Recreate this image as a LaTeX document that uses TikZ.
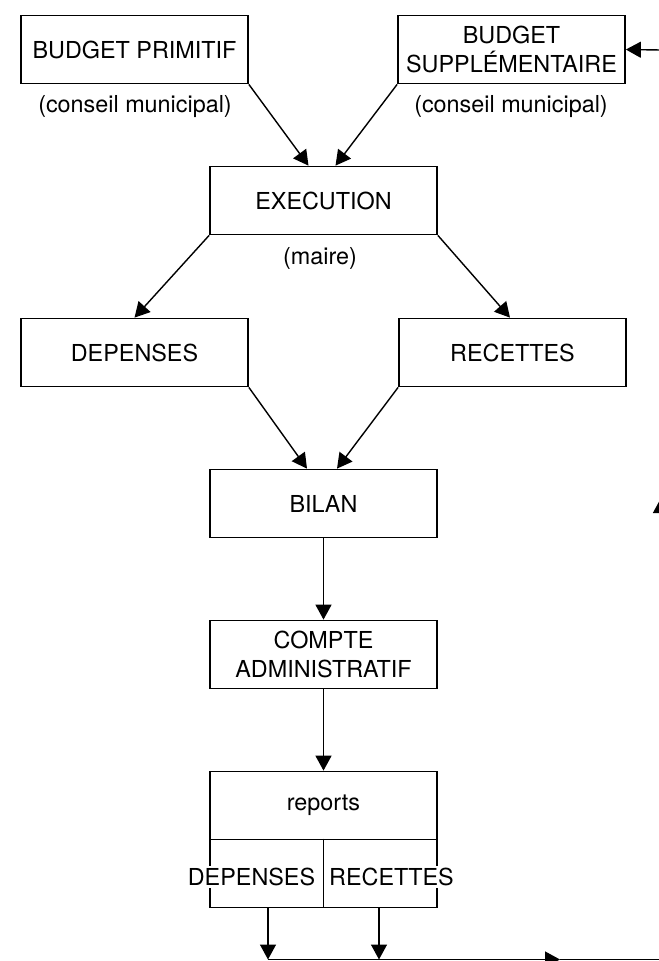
\documentclass[tikz,border=0pt]{standalone}
\usepackage{fontspec}
\setmainfont{TeX Gyre Heros}
\usepackage{tikz}
\usetikzlibrary{shapes}
\usetikzlibrary{arrows.meta}

\begin{document}
\begin{tikzpicture}[x=0.02cm,y=-0.02cm,>={Triangle[length=3mm,width=3.2mm]}]
        \tikzstyle{etape}=[rectangle,draw=black,line width=1pt,minimum width=4.54cm,minimum height=1.36cm,inner sep=0pt,align=center,font=\fontsize{13.3}{16}\selectfont]
        \tikzstyle{legende}=[font=\fontsize{13.3}{16}\selectfont]
        \tikzstyle{edge}=[draw, line width=0.8pt]
        \useasboundingbox (0,0) rectangle (659,961);
       \begin{scope}
         \node [etape] (bp) at (134.5,49.5) {BUDGET PRIMITIF};
         \node [etape] (bs) at (511.5,49.5) {BUDGET\\SUPPL\'EMENTAIRE};
         \node [legende] (cm1) at (135,107) {(conseil municipal)};
         \node [legende] (cm2) at (511,107) {(conseil municipal)};
         \node [etape] (exe) at (323.5,200.5) {EXECUTION};
         \node [legende] (maire) at (320,258) {(maire)};
         \node [etape] (dep) at (134.5,352.5) {DEPENSES};
         \node [etape] (rec) at (512.5,352.5) {RECETTES};
         \node [etape] (bil) at (323.5,503.5) {BILAN};
         \node [etape] (ca) at (323.5,654.5) {COMPTE\\ADMINISTRATIF};
         \node [etape] (rept) at (323.5,805.5) {reports};
         \node [etape] (repb) at (323.5,873.5) {};
         \draw [line width=0.8pt] (repb.north) -- (repb.south);
         \node [legende,fill=white,inner sep=1pt] (rdep) at (251.5,877) {DEPENSES};
         \node [legende,fill=white,inner sep=1pt] (rrec) at (391.5,877) {RECETTES};
         % boucle de retour
         \coordinate (c1) at (268,959.5);
         \coordinate (c2) at (379,959.5);
         \coordinate (m1) at (560,959.5);
         \coordinate (c3) at (661,959.5);
         \coordinate (m2) at (661,498);
         \coordinate (c4) at (661,50);
         \draw[edge,->] (bp.south east) -- ([xshift=-0.3cm]exe.north);
         \draw[edge,->] (bs.south west) -- ([xshift=0.24cm]exe.north);
         \draw[edge,->] (exe.south west) -- (dep.north);
         \draw[edge,->] (exe.south east) -- ([xshift=-0.05cm]rec.north);
         \draw[edge,->] (dep.south east) -- ([xshift=-0.33cm]bil.north);
         \draw[edge,->] (rec.south west) -- ([xshift=0.27cm]bil.north);
         \draw[edge,->] (bil) -- (ca);
         \draw[edge,->] (ca) -- (rept);
         \draw[edge,->] (repb.south -| c1) -- (c1);
         \draw[edge,->] (repb.south -| c2) -- (c2);
         \draw[edge,->] (c1) -- (m1);
         \draw[edge] (m1) -- (c3);
         \draw[edge,->] (c3) -- (m2);
         \draw[edge] (m2) -- (c4);
         \draw[edge,->] (c4) -- (bs.east);
        \end{scope}
\end{tikzpicture}
\end{document}
